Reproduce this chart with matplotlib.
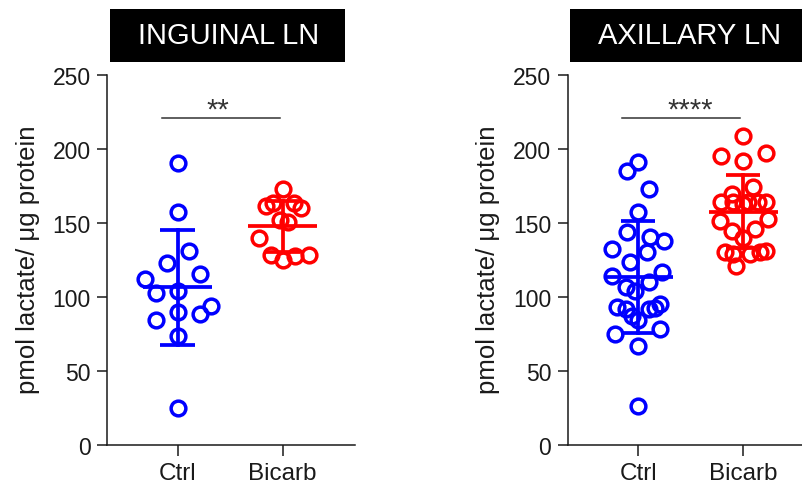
import matplotlib.pyplot as plt
from matplotlib.patches import Rectangle
import numpy as np

plt.rcParams['font.family'] = ['Liberation Sans', 'DejaVu Sans']

groups = ["Ctrl", "Bicarb"]
yticks = [0, 50, 100, 150, 200, 250]
ylabel = "pmol lactate/ \u03bcg protein"

# inguinal LN (dx = horizontal spread of the dots)
ing_ctrl = [190.7, 157.4, 131.3, 122.7, 115.4, 112.0, 104.0, 102.5, 94.0, 88.2, 89.4, 84.1, 73.5, 24.8]
ing_ctrl_dx = [0, 0, 0.11, -0.105, 0.21, -0.31, 0, -0.21, 0.32, 0.21, 0, -0.21, 0, 0]
ing_bic = [172.9, 161.2, 163.4, 163.4, 160.0, 152.1, 150.8, 139.6, 128.5, 125.1, 127.4, 128.5]
ing_bic_dx = [0, -0.16, -0.095, 0.11, 0.175, -0.03, 0.05, -0.23, -0.11, 0, 0.12, 0.25]

# axillary LN
axi_ctrl = [191.3, 184.9, 172.9, 157.5, 144.0, 140.2, 137.9, 132.3, 130.5, 123.3,
            114.3, 116.6, 109.8, 106.4, 104.1, 92.9, 95.1, 91.8, 91.8, 92.2,
            87.2, 84.0, 74.8, 78.2, 66.9, 26.0]
axi_ctrl_dx = [0, -0.105, 0.10, 0, -0.105, 0.11, 0.25, -0.25, 0.085, -0.08,
               -0.25, 0.23, 0.10, -0.12, -0.03, -0.2, 0.21, -0.12, 0.10, 0.165,
               -0.06, 0, -0.22, 0.21, 0, 0]
axi_bic = [208.9, 195.0, 197.0, 191.6, 174.0, 169.5, 164.4, 164.4, 164.4, 164.4, 164.4,
           162.7, 151.5, 152.6, 144.7, 145.8, 139.6, 130.1, 128.9, 128.9, 130.1, 121.0, 131.2]
axi_bic_dx = [0, -0.21, 0.22, 0, 0.095, -0.11, -0.21, -0.095, 0.05, 0.14, 0.22,
              0, -0.22, 0.24, -0.11, 0.11, 0, -0.175, -0.095, 0.065, 0.16, -0.065, 0.22]

W, H = 803, 485
fig = plt.figure(figsize=(W / 100, H / 100), dpi=100)

ink = '#1a1a1a'
cols = ['#0000ff', '#ff0000']


def panel(x0, title, data, dxs, stars, star_x):
    ax = fig.add_axes([x0 / W, 1 - 445.7 / H, 248 / W, (445.7 - 76) / H])
    for i, (vals, dx) in enumerate(zip(data, dxs)):
        vals = np.array(vals)
        xs = i + np.array(dx)
        ax.plot(xs, vals, 'o', ms=10.6, mew=2.5, mfc='none', mec=cols[i], zorder=3)
        m = vals.mean()
        sd = vals.std(ddof=1)
        ax.plot([i - 0.33, i + 0.33], [m, m], color=cols[i], lw=2.7, zorder=4, solid_capstyle='butt')
        ax.plot([i, i], [m - sd, m + sd], color=cols[i], lw=2.7, zorder=4)
        for v in (m - sd, m + sd):
            ax.plot([i - 0.165, i + 0.165], [v, v], color=cols[i], lw=2.7, zorder=4, solid_capstyle='butt')

    ax.plot([-0.15, 0.97], [220.9, 220.9], color='#333333', lw=1.1, clip_on=False)
    ax.text(star_x, 221.5, stars, ha='center', va='baseline', fontsize=21, color='#333333')

    ax.set_xlim(-0.673, 1.689)
    ax.set_ylim(0, 250)
    ax.set_yticks(yticks)
    ax.set_xticks([0, 1])
    ax.set_xticklabels(groups)
    for s in ['top', 'right']:
        ax.spines[s].set_visible(False)
    for s in ['left', 'bottom']:
        ax.spines[s].set_linewidth(1.1)
        ax.spines[s].set_color(ink)
    ax.tick_params(axis='y', length=7.3, width=1.1, pad=4.5, labelsize=16.5, colors=ink)
    ax.tick_params(axis='x', length=7.8, width=1.1, pad=4.5, labelsize=17.5, colors=ink)

    # black title box
    fig.patches.append(Rectangle(((x0 + 3) / W, 1 - 63 / H), 235 / W, 53 / H,
                                 transform=fig.transFigure, facecolor='black', edgecolor='none'))
    fig.text((x0 + 3 + 119) / W, 1 - 36.5 / H, title, ha='center', va='center',
             color='white', fontsize=21)
    fig.text((x0 - 79) / W, 1 - 260 / H, ylabel, rotation=90, ha='center', va='center',
             fontsize=18.5, color=ink)
    return ax


panel(107, "INGUINAL LN", [ing_ctrl, ing_bic], [ing_ctrl_dx, ing_bic_dx], "**", 0.38)
panel(567.5, "AXILLARY LN", [axi_ctrl, axi_bic], [axi_ctrl_dx, axi_bic_dx], "****", 0.50)

fig.savefig("out.png", dpi=100)
